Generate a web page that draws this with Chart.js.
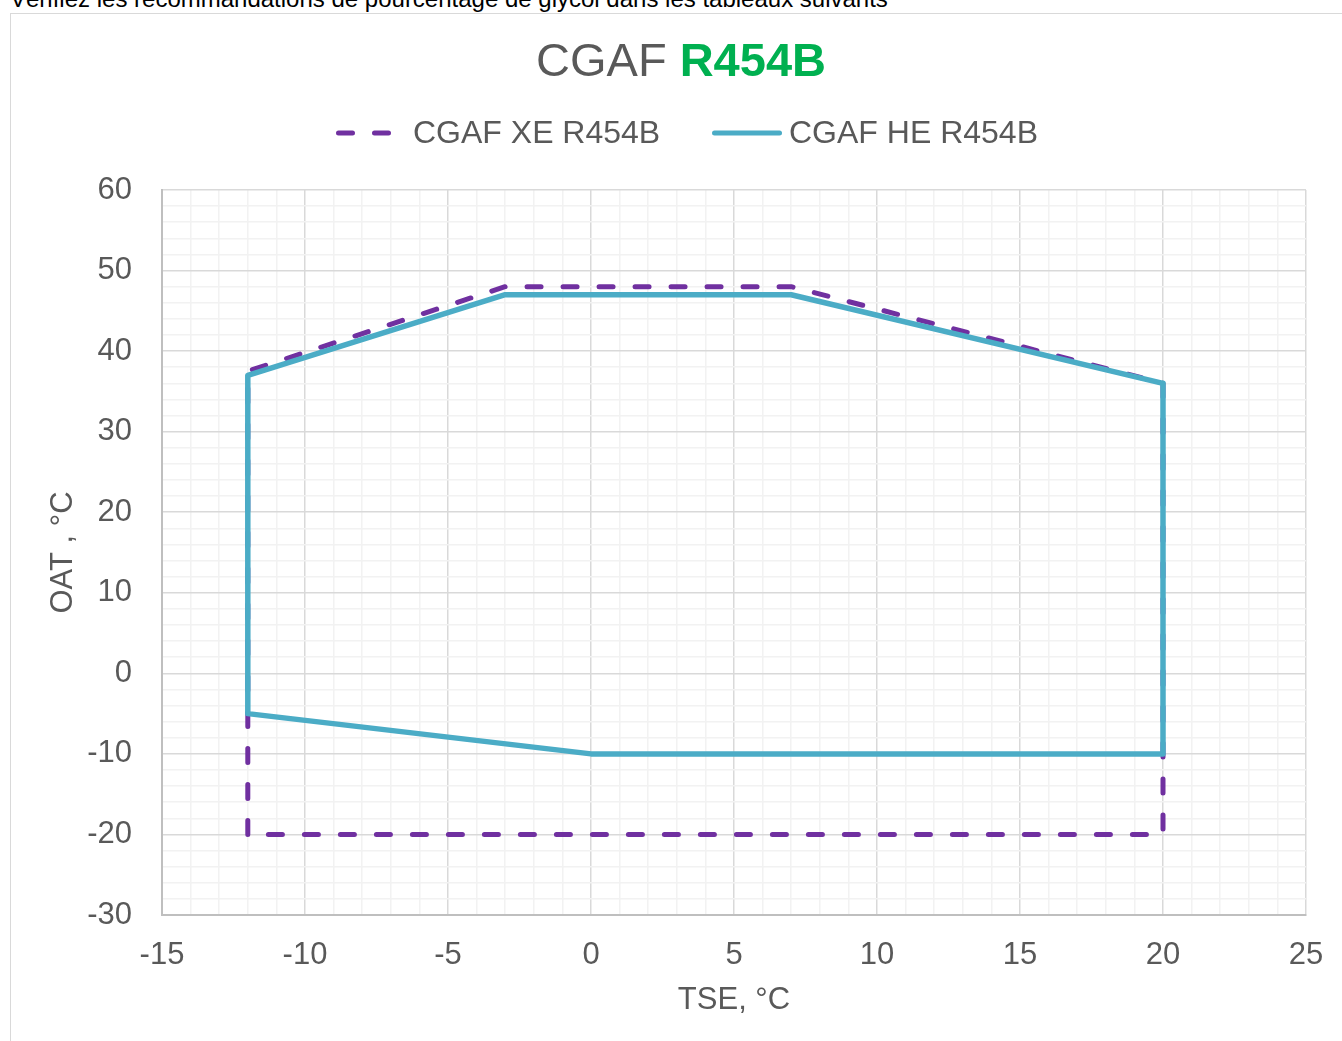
<!DOCTYPE html>
<html lang="fr">
<head>
    <meta charset="UTF-8">
    <title>CGAF R454B</title>
    <script src="https://cdn.jsdelivr.net/npm/chart.js"></script>
    <style>
        body {
            margin: 0;
            background: #fff;
            font-family: "Liberation Sans", Arial, sans-serif;
            overflow: hidden;
            width: 1342px;
            height: 1041px;
            position: relative;
        }
        .note {
            position: absolute;
            left: 10px;
            top: -13px;
            font-size: 24px;
            line-height: 24px;
            color: #000;
            white-space: nowrap;
        }
        .chart-box {
            position: absolute;
            left: 10px;
            top: 13px;
            width: 1400px;
            height: 1100px;
            border: 1px solid #d9d9d9;
        }
        .chart-box canvas {
            position: absolute;
            left: 0;
            top: 0;
        }
    </style>
</head>
<body>
    <div class="note">Vérifiez les recommandations de pourcentage de glycol dans les tableaux suivants</div>
    <div class="chart-box">
        <canvas id="envelopeChart" width="1344" height="1027"></canvas>
    </div>

    <script>
        // operating envelopes (TSE, OAT)
        const xeLabel = 'CGAF XE R454B';
        const xeTse = [-12, -12, -3, 7, 20, 20, -12];
        const xeOat = [-20, 37.5, 48, 48, 36, -20, -20];

        const heLabel = 'CGAF HE R454B';
        const heTse = [-12, -12, -3, 7, 20, 20, 0, -12];
        const heOat = [-5, 37, 47, 47, 36, -10, -10, -5];

        const tseRange = [-15, 25];
        const oatRange = [-30, 60];

        const purple = '#7030A0';
        const teal = '#4BACC6';
        const textGray = '#595959';
        const font = '"Liberation Sans", Arial, sans-serif';

        const toPoints = (xs, ys) => xs.map((x, i) => ({ x: x, y: ys[i] }));

        // title with two colours + legend drawn as line samples
        const headerPlugin = {
            id: 'header',
            afterDraw(chart) {
                const ctx = chart.ctx;
                ctx.save();
                const cx = 670;
                ctx.textBaseline = 'alphabetic';
                ctx.font = '47px ' + font;
                const partA = 'CGAF ';
                const wA = ctx.measureText(partA).width;
                ctx.font = 'bold 47px ' + font;
                const partB = 'R454B';
                const wB = ctx.measureText(partB).width;
                let x = cx - (wA + wB) / 2;
                ctx.font = '47px ' + font;
                ctx.fillStyle = textGray;
                ctx.textAlign = 'left';
                ctx.fillText(partA, x, 62);
                ctx.font = 'bold 47px ' + font;
                ctx.fillStyle = '#00B050';
                ctx.fillText(partB, x + wA, 62);

                // legend
                const ly = 119;
                ctx.lineWidth = 5;
                ctx.lineCap = 'round';
                ctx.strokeStyle = purple;
                ctx.setLineDash([14, 22]);
                ctx.beginPath();
                ctx.moveTo(327.5, ly);
                ctx.lineTo(381.5, ly);
                ctx.stroke();
                ctx.strokeStyle = teal;
                ctx.setLineDash([]);
                ctx.beginPath();
                ctx.moveTo(703.5, ly);
                ctx.lineTo(768.5, ly);
                ctx.stroke();

                ctx.font = '32px ' + font;
                ctx.fillStyle = textGray;
                ctx.textBaseline = 'middle';
                ctx.fillText(chart.data.datasets[0].label, 402, ly + 1.5);
                ctx.fillText(chart.data.datasets[1].label, 778, ly + 1.5);
                ctx.restore();
            }
        };

        const ctx = document.getElementById('envelopeChart').getContext('2d');
        new Chart(ctx, {
            type: 'scatter',
            data: {
                datasets: [{
                    label: xeLabel,
                    data: toPoints(xeTse, xeOat),
                    showLine: true,
                    borderColor: purple,
                    borderWidth: 5,
                    borderDash: [14, 22],
                    borderCapStyle: 'round',
                    borderJoinStyle: 'round',
                    pointRadius: 0,
                    pointHoverRadius: 0,
                    fill: false,
                    tension: 0,
                    order: 1
                }, {
                    label: heLabel,
                    data: toPoints(heTse, heOat),
                    showLine: true,
                    borderColor: teal,
                    borderWidth: 5.5,
                    borderCapStyle: 'round',
                    borderJoinStyle: 'round',
                    pointRadius: 0,
                    pointHoverRadius: 0,
                    fill: false,
                    tension: 0,
                    order: 0
                }]
            },
            options: {
                responsive: false,
                animation: false,
                layout: {
                    padding: { left: 0, right: 49, top: 176, bottom: 0 }
                },
                plugins: {
                    legend: { display: false },
                    title: { display: false },
                    tooltip: { enabled: false }
                },
                scales: {
                    x: {
                        type: 'linear',
                        min: tseRange[0],
                        max: tseRange[1],
                        afterFit: s => { s.height = 126; },
                        ticks: {
                            stepSize: 1,
                            autoSkip: false,
                            maxRotation: 0,
                            padding: 22,
                            color: textGray,
                            font: { family: font, size: 31 },
                            callback: v => (v % 5 === 0 ? v : '')
                        },
                        grid: {
                            drawTicks: false,
                            lineWidth: 1.5,
                            color: c => (c.tick && c.tick.value % 5 === 0 ? '#d9d9d9' : '#f2f2f2')
                        },
                        border: { color: '#bfbfbf', width: 2 },
                        title: {
                            display: true,
                            text: 'TSE, °C',
                            color: textGray,
                            font: { family: font, size: 31 },
                            padding: { top: 0, bottom: 22 }
                        }
                    },
                    y: {
                        type: 'linear',
                        min: oatRange[0],
                        max: oatRange[1],
                        afterFit: s => { s.width = 151; },
                        ticks: {
                            stepSize: 2,
                            autoSkip: false,
                            padding: 30,
                            color: textGray,
                            font: { family: font, size: 31 },
                            callback: v => (v % 10 === 0 ? v : '')
                        },
                        grid: {
                            drawTicks: false,
                            lineWidth: 1.5,
                            color: c => (c.tick && c.tick.value % 10 === 0 ? '#d9d9d9' : '#f2f2f2')
                        },
                        border: { color: '#bfbfbf', width: 2 },
                        title: {
                            display: true,
                            text: 'OAT , °C',
                            color: textGray,
                            font: { family: font, size: 31 },
                            padding: { top: 34, bottom: 0 }
                        }
                    }
                }
            },
            plugins: [headerPlugin]
        });
    </script>
</body>
</html>
